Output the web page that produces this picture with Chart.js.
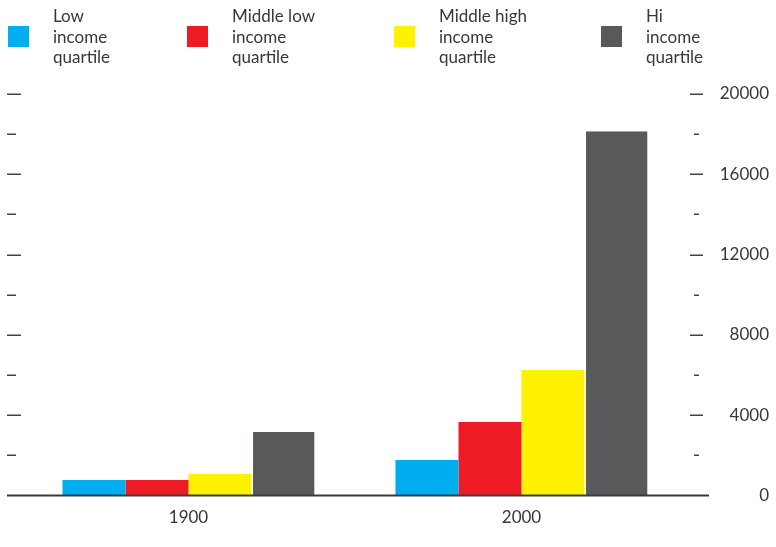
<!DOCTYPE html>
<html>
<head>
<meta charset="utf-8">
<script src="https://cdn.jsdelivr.net/npm/chart.js@4/dist/chart.umd.min.js"></script>
<style>
  body { margin: 0; background: #fff; }
  #wrap { position: relative; width: 776px; height: 547px; }
  #legend { position: absolute; left: 0; top: 0; width: 776px; height: 80px; }
  .item { position: absolute; top: 0; }
  .swatch { position: absolute; top: 26px; left: 0; width: 21px; height: 21px; }
  .label {
    position: absolute; top: 6px; left: 45px; white-space: nowrap;
    font: 17px/20.5px Lato, sans-serif; color: #383838;
  }
</style>
</head>
<body>
<div id="wrap">
  <canvas id="chart" width="776" height="547"></canvas>
  <div id="legend"></div>
</div>
<script>
const categories = ["1900", "2000"];

const lowIncome        = [770, 1770];
const middleLowIncome  = [770, 3660];
const middleHighIncome = [1070, 6250];
const hiIncome         = [3160, 18150];

const seriesLabels = [
  ["Low", "income", "quartile"],
  ["Middle low", "income", "quartile"],
  ["Middle high", "income", "quartile"],
  ["Hi", "income", "quartile"]
];
const seriesColors = ["#00aeef", "#ed1c24", "#fff200", "#58595b"];

const majorTicks = [0, 4000, 8000, 12000, 16000, 20000];
const minorTicks = [2000, 6000, 10000, 14000, 18000];

const legendLeft = [8, 187, 394, 601];

const ink = "#383838";

// tick marks on both sides and the base line, placed through the y scale
const axisMarks = {
  id: "axisMarks",
  afterDraw(c) {
    const ctx = c.ctx;
    const area = c.chartArea;
    const y = c.scales.y;
    ctx.save();
    ctx.strokeStyle = "#444";
    ctx.lineWidth = 1.5;
    const line = (x1, x2, py) => {
      ctx.beginPath();
      ctx.moveTo(x1, py);
      ctx.lineTo(x2, py);
      ctx.stroke();
    };
    majorTicks.forEach(v => {
      if (v === 0) return;
      const py = Math.round(y.getPixelForValue(v)) + 0.25;
      line(area.left - 15, area.left - 1, py);
      line(area.right + 2, area.right + 15, py);
    });
    minorTicks.forEach(v => {
      const py = Math.round(y.getPixelForValue(v)) + 0.25;
      line(area.left - 15, area.left - 6, py);
      line(area.right + 6, area.right + 11, py);
    });
    ctx.strokeStyle = "#3a3a3a";
    ctx.lineWidth = 2;
    line(area.left - 15, area.right + 21, y.getPixelForValue(0));
    ctx.restore();
  }
};

const datasets = [lowIncome, middleLowIncome, middleHighIncome, hiIncome].map((d, i) => ({
  label: seriesLabels[i].join(" "),
  data: d,
  backgroundColor: seriesColors[i],
  borderColor: "#fff",
  borderWidth: i === 3 ? { left: 1.5, top: 0, right: 0, bottom: 0 } : 0,
  borderSkipped: false,
  barPercentage: 1,
  categoryPercentage: 0.757
}));

const chart = new Chart(document.getElementById("chart"), {
  type: "bar",
  data: { labels: categories, datasets },
  options: {
    responsive: false,
    devicePixelRatio: 1,
    animation: false,
    layout: { padding: { top: 94, bottom: 19, left: 22, right: 7 } },
    plugins: { legend: { display: false }, tooltip: { enabled: false } },
    scales: {
      x: {
        grid: { display: false, drawTicks: false },
        border: { display: false },
        ticks: { color: ink, font: { family: "Lato", size: 17 }, padding: 12 },
        afterFit: s => { s.height = 32.5; }
      },
      y: {
        position: "right",
        min: 0,
        max: 20000,
        grid: { display: false, drawTicks: false },
        border: { display: false },
        ticks: {
          stepSize: 4000,
          crossAlign: "far",
          padding: 32,
          color: ink,
          font: { family: "Lato", size: 17 },
          callback: v => String(v)
        },
        afterFit: s => { s.width = 81; }
      }
    }
  },
  plugins: [axisMarks]
});

// legend with stacked three-line labels
const legendEl = document.getElementById("legend");
chart.data.datasets.forEach((ds, i) => {
  const item = document.createElement("div");
  item.className = "item";
  item.style.left = legendLeft[i] + "px";
  const sw = document.createElement("div");
  sw.className = "swatch";
  sw.style.background = ds.backgroundColor;
  const lbl = document.createElement("div");
  lbl.className = "label";
  lbl.innerHTML = seriesLabels[i].join("<br>");
  item.appendChild(sw);
  item.appendChild(lbl);
  legendEl.appendChild(item);
});
</script>
</body>
</html>
